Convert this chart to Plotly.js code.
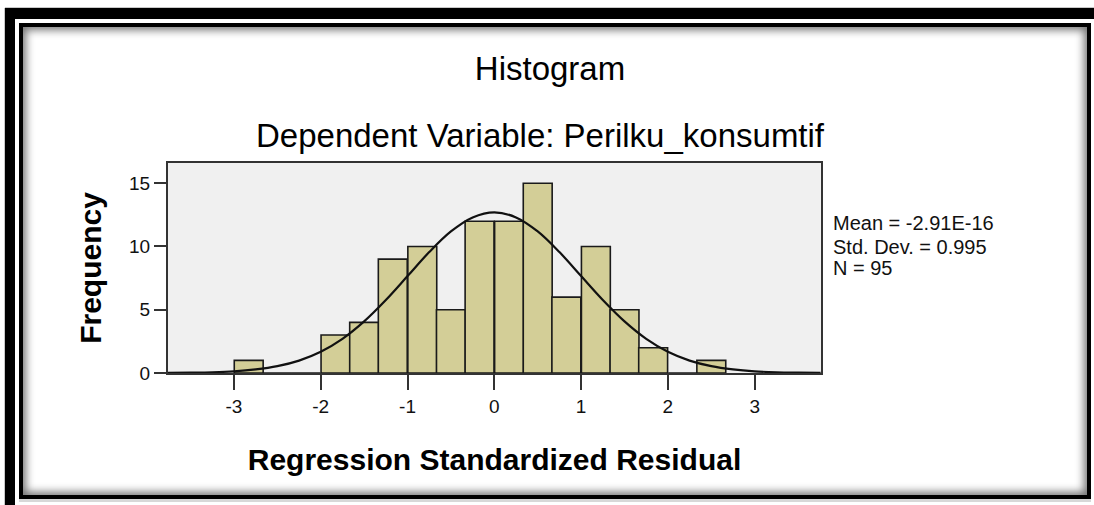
<!DOCTYPE html>
<html>
<head>
<meta charset="utf-8">
<script src="https://cdn.plot.ly/plotly-3.0.1.min.js"></script>
<style>
  html, body { margin:0; padding:0; background:#fff; }
  #stage { position:relative; width:1094px; height:505px; overflow:hidden; background:#fff; }
  .blk { position:absolute; background:#000; }
  #outerTop { left:5px; top:8px; width:1089px; height:11px; box-shadow:0 -1px 0 #c8c8c8; }
  #outerLeft { left:5px; top:8px; width:10px; height:497px; box-shadow:-1px 0 0 #c8c8c8; }
  #inner { position:absolute; left:19px; top:23px; width:1072px; height:476px; box-sizing:border-box;
           border:4px solid #000; background:#fff; box-shadow: inset 0 0 9px 3px rgba(0,0,0,0.55), 0 3px 0 #d8d8d8; }
  #chart { position:absolute; left:0; top:0; width:1094px; height:505px; }
</style>
</head>
<body>
<div id="stage">
  <div id="outerTop" class="blk"></div>
  <div id="outerLeft" class="blk"></div>
  <div id="inner"></div>
  <div id="chart"></div>
</div>
<script>
// ---- data ----
const binCenters = [-2.83, -2.5, -2.17, -1.83, -1.5, -1.17, -0.83, -0.5, -0.17, 0.17, 0.5, 0.83, 1.17, 1.5, 1.83, 2.17, 2.5];
const frequencies = [1, 0, 0, 3, 4, 9, 10, 5, 12, 12, 15, 6, 10, 5, 2, 0, 1];
const curveX = [-3.76, -3.5, -3.25, -3.0, -2.75, -2.5, -2.25, -2.0, -1.75, -1.5, -1.25, -1.0, -0.75, -0.5, -0.25, 0, 0.25, 0.5, 0.75, 1.0, 1.25, 1.5, 1.75, 2.0, 2.25, 2.5, 2.75, 3.0, 3.25, 3.5, 3.76];
const curveY = [0.01, 0.03, 0.06, 0.13, 0.28, 0.54, 0.98, 1.68, 2.70, 4.08, 5.77, 7.66, 9.56, 11.19, 12.30, 12.70, 12.30, 11.19, 9.56, 7.66, 5.77, 4.08, 2.70, 1.68, 0.98, 0.54, 0.28, 0.13, 0.06, 0.03, 0.01];
const xTicks = [-3, -2, -1, 0, 1, 2, 3];
const yTicks = [0, 5, 10, 15];
const statLines = ["Mean = -2.91E-16", "Std. Dev. = 0.995", "N = 95"];
const chartTitle = "Histogram";
const chartSubtitle = "Dependent Variable: Perilku_konsumtif";
const xTitle = "Regression Standardized Residual";
const yTitle = "Frequency";

// ---- styling ----
const FONT = "Arial, 'Liberation Sans', sans-serif";
const L = 168, R = 821, T = 163, B = 373, W = 1094, H = 505;
const pw = R - L, ph = B - T;

const traces = [
  {
    type: 'bar', x: binCenters, y: frequencies, width: 0.333,
    marker: { color: '#d3ce97', line: { color: '#1a1a1a', width: 1.6 } },
    hoverinfo: 'skip', showlegend: false
  },
  {
    type: 'scatter', mode: 'lines', x: curveX, y: curveY,
    line: { color: '#111', width: 2.2, shape: 'spline', smoothing: 1 },
    hoverinfo: 'skip', showlegend: false
  }
];

const statY = [223.4, 246.5, 268.4];
const annotations = [
  { text: chartSubtitle, xref: 'paper', yref: 'paper', x: (540 - L) / pw, y: (B - 135) / ph,
    xanchor: 'center', yanchor: 'middle', showarrow: false, font: { family: FONT, size: 33, color: '#000' } }
].concat(statLines.map((s, i) => ({
    text: s, xref: 'paper', yref: 'paper', x: (831 - L) / pw, y: (B - statY[i]) / ph,
    xanchor: 'left', yanchor: 'middle', showarrow: false, font: { family: FONT, size: 20, color: '#111' }
})));

const layout = {
  width: W, height: H,
  margin: { l: L, r: W - R, t: T, b: H - B, pad: 0 },
  paper_bgcolor: 'rgba(0,0,0,0)',
  plot_bgcolor: '#f0f0f0',
  bargap: 0,
  title: { text: chartTitle, font: { family: FONT, size: 33, color: '#000' },
           xref: 'container', yref: 'container', x: 550 / W, y: 1 - 68.4 / H, xanchor: 'center', yanchor: 'middle' },
  xaxis: {
    range: [-3.76, 3.764], tickvals: xTicks, ticktext: xTicks.map(String),
    showgrid: false, zeroline: false, showline: true, mirror: true, linecolor: '#333', linewidth: 2,
    ticks: 'outside', ticklen: 15, tickwidth: 2, tickcolor: '#333',
    tickfont: { family: FONT, size: 19, color: '#111' },
    title: { text: xTitle, font: { family: FONT, size: 30, color: '#000', weight: 'bold' }, standoff: 33 },
    automargin: false, fixedrange: true
  },
  yaxis: {
    range: [0, 16.6], tickvals: yTicks, ticktext: yTicks.map(String),
    showgrid: false, zeroline: false, showline: true, mirror: true, linecolor: '#333', linewidth: 2,
    ticks: 'outside', ticklen: 12, tickwidth: 2, tickcolor: '#333',
    tickfont: { family: FONT, size: 19, color: '#111' },
    title: { text: yTitle, font: { family: FONT, size: 30, color: '#000', weight: 'bold' }, standoff: 19 },
    automargin: false, fixedrange: true
  },
  annotations: annotations
};

Plotly.newPlot('chart', traces, layout, { displayModeBar: false, staticPlot: true });
</script>
</body>
</html>
